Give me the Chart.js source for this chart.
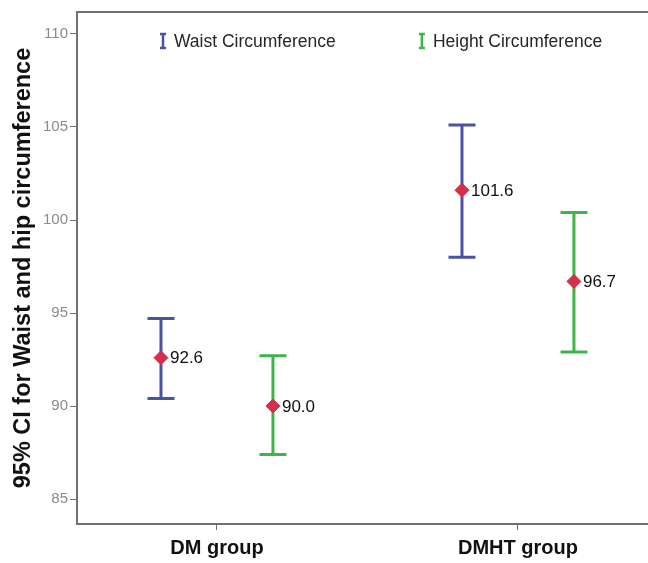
<!DOCTYPE html>
<html>
<head>
<meta charset="utf-8">
<script src="https://cdn.jsdelivr.net/npm/chart.js@4"></script>
<style>
  html, body { margin: 0; background: #fff; }
  #wrap { width: 648px; height: 563px; }
</style>
</head>
<body>
<div id="wrap"><canvas id="chart"></canvas></div>
<script>
const groups = ['DM group', 'DMHT group'];
const seriesNames = ['Waist Circumference', 'Height Circumference'];
const waistMean = [92.6, 101.6];
const waistLow = [90.4, 98.0];
const waistHigh = [94.7, 105.1];
const heightMean = [90.0, 96.7];
const heightLow = [87.4, 92.9];
const heightHigh = [92.7, 100.4];
const yTicks = [85, 90, 95, 100, 105, 110];

const font = '"Liberation Sans", Arial, sans-serif';
const blue = '#4a52a3';
const green = '#3db54b';
const red = '#d3304b';
const axisColor = '#707070';
const shift = 0.186;

function points(means, dx) {
  return means.map((m, i) => ({ x: i + 1 + dx, y: m }));
}

function series(name, means, low, high, color, dx) {
  return {
    label: name,
    data: points(means, dx),
    low, high, barColor: color,
    showLine: false,
    pointStyle: 'rectRot',
    pointRadius: 7,
    pointHoverRadius: 7,
    backgroundColor: red,
    borderColor: red,
    borderWidth: 1
  };
}

const errorBars = {
  id: 'errorBars',
  beforeDatasetsDraw(chart) {
    const { ctx, scales: { x, y } } = chart;
    ctx.save();
    chart.data.datasets.forEach((ds) => {
      ds.data.forEach((p, i) => {
        const px = x.getPixelForValue(p.x);
        const top = y.getPixelForValue(ds.high[i]);
        const bot = y.getPixelForValue(ds.low[i]);
        ctx.strokeStyle = ds.barColor;
        ctx.lineWidth = 3;
        ctx.beginPath();
        ctx.moveTo(px, top); ctx.lineTo(px, bot);
        ctx.moveTo(px - 13.5, top); ctx.lineTo(px + 13.5, top);
        ctx.moveTo(px - 13.5, bot); ctx.lineTo(px + 13.5, bot);
        ctx.stroke();
      });
    });
    ctx.restore();
  },
  afterDatasetsDraw(chart) {
    const { ctx, scales: { x, y }, chartArea } = chart;
    ctx.save();
    // value labels
    ctx.fillStyle = '#111';
    ctx.font = '17px ' + font;
    ctx.textBaseline = 'middle';
    ctx.textAlign = 'left';
    chart.data.datasets.forEach((ds) => {
      ds.data.forEach((p) => {
        ctx.fillText(p.y.toFixed(1), x.getPixelForValue(p.x) + 9, y.getPixelForValue(p.y) + 1);
      });
    });
    // top frame line
    ctx.strokeStyle = axisColor;
    ctx.lineWidth = 2;
    ctx.beginPath();
    ctx.moveTo(chartArea.left, chartArea.top);
    ctx.lineTo(chartArea.right, chartArea.top);
    ctx.stroke();
    // legend
    const spots = [0.1506, 0.604];
    const ly = chartArea.top + 29;
    chart.data.datasets.forEach((ds, i) => {
      const lx = chartArea.left + chartArea.width * spots[i];
      ctx.strokeStyle = ds.barColor;
      ctx.lineWidth = 2.5;
      ctx.beginPath();
      ctx.moveTo(lx, ly - 7); ctx.lineTo(lx, ly + 7);
      ctx.moveTo(lx - 3, ly - 7); ctx.lineTo(lx + 3, ly - 7);
      ctx.moveTo(lx - 3, ly + 7); ctx.lineTo(lx + 3, ly + 7);
      ctx.stroke();
      ctx.fillStyle = '#262626';
      ctx.font = '17.5px ' + font;
      ctx.fillText(ds.label, lx + 11, ly + 1);
    });
    ctx.restore();
  }
};

new Chart(document.getElementById('chart'), {
  type: 'scatter',
  data: {
    datasets: [
      series(seriesNames[0], waistMean, waistLow, waistHigh, blue, -shift),
      series(seriesNames[1], heightMean, heightLow, heightHigh, green, shift)
    ]
  },
  plugins: [errorBars],
  options: {
    responsive: true,
    maintainAspectRatio: false,
    animation: false,
    layout: { autoPadding: false, padding: { top: 12, left: 0, right: 0, bottom: 0 } },
    plugins: { legend: { display: false }, tooltip: { enabled: false } },
    scales: {
      x: {
        type: 'linear',
        min: 0.535,
        max: 2.432,
        afterBuildTicks: (s) => { s.ticks = [{ value: 1 }, { value: 2 }]; },
        afterFit: (s) => { s.height = 39; },
        ticks: {
          callback: (v) => groups[v - 1],
          font: { family: font, size: 20, weight: 'bold' },
          color: '#111',
          padding: 6,
          maxRotation: 0,
          autoSkip: false
        },
        grid: { drawOnChartArea: false, tickLength: 6, color: axisColor },
        border: { color: axisColor, width: 2 }
      },
      y: {
        min: 83.66,
        max: 111.18,
        afterBuildTicks: (s) => { s.ticks = yTicks.map((v) => ({ value: v })); },
        afterFit: (s) => { s.width = 77; },
        ticks: {
          font: { family: font, size: 15 },
          color: '#8a8a8a',
          padding: 2
        },
        grid: { drawOnChartArea: false, tickLength: 7, color: axisColor },
        border: { color: axisColor, width: 2 },
        title: {
          display: true,
          text: '95% CI for Waist and hip circumference',
          font: { family: font, size: 23.5, weight: 'bold' },
          color: '#111',
          padding: { top: 9, bottom: 0 }
        }
      }
    }
  }
});
</script>
</body>
</html>
